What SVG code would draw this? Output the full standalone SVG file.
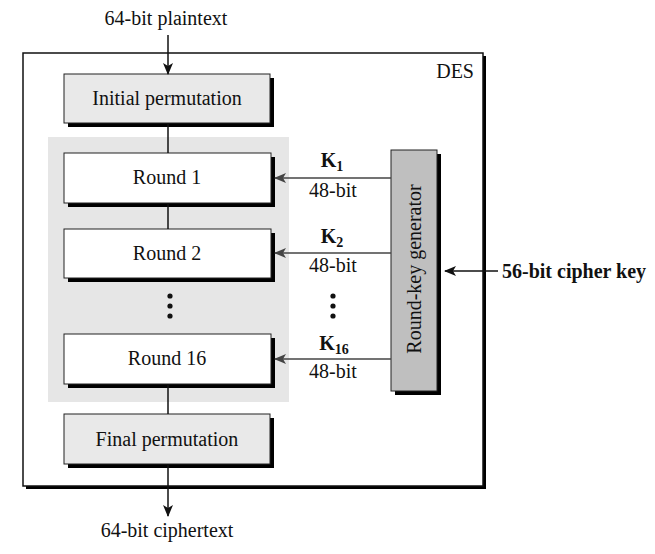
<svg xmlns="http://www.w3.org/2000/svg" width="655" height="554" viewBox="0 0 655 554">
<style>
text{font-family:"Liberation Serif","Times New Roman",serif;font-size:20px;fill:#111}
.b{font-weight:bold}
.sh{fill:#000}
.box{stroke:#222;stroke-width:1}
.perm{fill:#e9e9e9}
.rnd{fill:#fff}
.ln{stroke:#111;stroke-width:1.5;fill:none}
.kl{stroke:#444;stroke-width:1.5;fill:none}
</style>
<defs>
<marker id="ah" viewBox="0 0 12 10" refX="11" refY="5" markerWidth="12" markerHeight="10" markerUnits="userSpaceOnUse" orient="auto">
<path d="M0,0 L12,5 L0,10 L3,5 Z" fill="#111"/>
</marker>
<marker id="ahg" viewBox="0 0 12 10" refX="11" refY="5" markerWidth="12" markerHeight="10" markerUnits="userSpaceOnUse" orient="auto">
<path d="M0,0 L12,5 L0,10 L3,5 Z" fill="#444"/>
</marker>
</defs>
<rect width="655" height="554" fill="#fff"/>
<g id="des">
<rect x="26" y="56" width="460" height="433" class="sh"/>
<rect x="23" y="53" width="460" height="433" fill="#fff" stroke="#111" stroke-width="1.5"/>
<text x="474" y="78" text-anchor="end">DES</text>
</g>
<rect id="rounds-bg" x="48" y="137" width="241" height="265" fill="#e6e6e6"/>
<g id="initial">
<rect x="68" y="78" width="206" height="49" class="sh"/>
<rect x="64" y="74" width="206" height="49" class="box perm"/>
<text x="167" y="105" text-anchor="middle">Initial permutation</text>
</g>
<g id="round1">
<rect x="68" y="157" width="207" height="50" class="sh"/>
<rect x="64" y="153" width="207" height="50" class="box rnd"/>
<text x="167" y="184" text-anchor="middle">Round 1</text>
</g>
<g id="round2">
<rect x="68" y="233" width="207" height="49" class="sh"/>
<rect x="64" y="229" width="207" height="49" class="box rnd"/>
<text x="167" y="260" text-anchor="middle">Round 2</text>
</g>
<g id="dots1" fill="#111">
<circle cx="170" cy="296" r="2.6"/><circle cx="170" cy="306" r="2.6"/><circle cx="170" cy="316" r="2.6"/>
</g>
<g id="round16">
<rect x="68" y="338" width="207" height="50" class="sh"/>
<rect x="64" y="334" width="207" height="50" class="box rnd"/>
<text x="167" y="365" text-anchor="middle">Round 16</text>
</g>
<g id="final">
<rect x="68" y="418" width="206" height="50" class="sh"/>
<rect x="64" y="414" width="206" height="50" class="box perm"/>
<text x="167" y="446" text-anchor="middle">Final permutation</text>
</g>
<g id="keygen">
<rect x="395" y="154" width="46" height="241" class="sh"/>
<rect x="391" y="150" width="46" height="241" fill="#bfbfbf" stroke="#222" stroke-width="1"/>
<text transform="translate(421,269) rotate(-90)" text-anchor="middle">Round-key generator</text>
</g>
<g id="connectors">
<line x1="168" y1="35" x2="168" y2="74" class="ln" marker-end="url(#ah)"/>
<line x1="168" y1="123" x2="168" y2="153" class="ln"/>
<line x1="168" y1="203" x2="168" y2="229" class="ln"/>
<line x1="168" y1="384" x2="168" y2="414" class="ln"/>
<line x1="168" y1="464" x2="168" y2="516" class="ln" marker-end="url(#ah)"/>
<line x1="391" y1="178" x2="275" y2="178" class="kl" marker-end="url(#ahg)"/>
<line x1="391" y1="253" x2="275" y2="253" class="kl" marker-end="url(#ahg)"/>
<line x1="391" y1="359" x2="275" y2="359" class="kl" marker-end="url(#ahg)"/>
<line x1="498" y1="271" x2="445" y2="271" class="ln" marker-end="url(#ah)"/>
</g>
<g id="labels">
<text x="166" y="25" text-anchor="middle">64-bit plaintext</text>
<text x="167" y="537" text-anchor="middle">64-bit ciphertext</text>
<text x="332" y="167" text-anchor="middle" class="b">K<tspan font-size="14" dy="4">1</tspan></text>
<text x="333" y="197" text-anchor="middle">48-bit</text>
<text x="332" y="243" text-anchor="middle" class="b">K<tspan font-size="14" dy="4">2</tspan></text>
<text x="333" y="272" text-anchor="middle">48-bit</text>
<text x="334" y="350" text-anchor="middle" class="b">K<tspan font-size="14" dy="4">16</tspan></text>
<text x="333" y="378" text-anchor="middle">48-bit</text>
<text x="502" y="278" class="b">56-bit cipher key</text>
</g>
<g id="dots2" fill="#111">
<circle cx="333" cy="296" r="2.6"/><circle cx="333" cy="306" r="2.6"/><circle cx="333" cy="316" r="2.6"/>
</g>
</svg>
